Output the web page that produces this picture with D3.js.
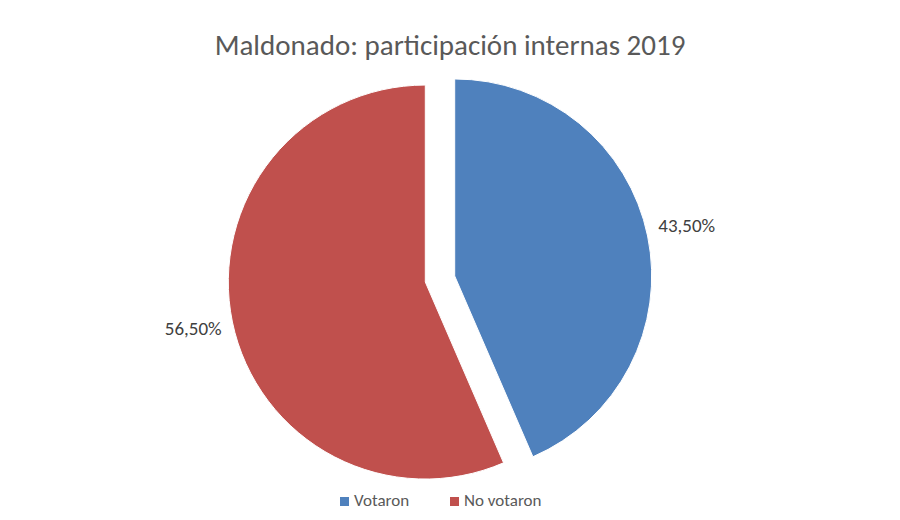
<!DOCTYPE html>
<html>
<head>
<meta charset="utf-8">
<script src="https://cdn.jsdelivr.net/npm/d3@7"></script>
<style>
  body { margin: 0; background: #fff; }
  text { font-family: Calibri, Carlito, "Open Sans", sans-serif; }
</style>
</head>
<body>
<svg id="chart" width="900" height="520"></svg>
<script>
var categories = ["Votaron", "No votaron"];
var values = [43.5, 56.5];
var colors = ["#4f81bd", "#c0504d"];

var svg = d3.select("#chart");
var cx = 440, cy = 279, r = 197, explode = 15;

svg.append("text")
    .attr("x", 450).attr("y", 55)
    .attr("text-anchor", "middle")
    .attr("font-size", 29)
    .attr("fill", "#595959")
    .text("Maldonado: participación internas 2019");

var pie = d3.pie().sort(null).value(function (d) { return d; });
var arcs = pie(values);
var arc = d3.arc().innerRadius(0).outerRadius(r);

var g = svg.append("g").attr("transform", "translate(" + cx + "," + cy + ")");

arcs.forEach(function (a, i) {
    var mid = (a.startAngle + a.endAngle) / 2;
    var dx = Math.sin(mid) * explode, dy = -Math.cos(mid) * explode;
    g.append("path")
        .attr("d", arc(a))
        .attr("transform", "translate(" + dx + "," + dy + ")")
        .attr("fill", colors[i])
        .attr("stroke", "#fff")
        .attr("stroke-width", 1);
    var lr = r + 40;
    var lx = Math.sin(mid) * lr + dx, ly = -Math.cos(mid) * lr + dy;
    g.append("text")
        .attr("x", lx).attr("y", ly)
        .attr("text-anchor", "middle")
        .attr("dominant-baseline", "middle")
        .attr("font-size", 19)
        .attr("fill", "#404040")
        .text(values[i].toFixed(2).replace(".", ",") + "%");
});

var legend = svg.append("g").attr("transform", "translate(340,502)");
var lxPos = [0, 110];
categories.forEach(function (c, i) {
    legend.append("rect")
        .attr("x", lxPos[i]).attr("y", -5)
        .attr("width", 9).attr("height", 9)
        .attr("fill", colors[i]);
    legend.append("text")
        .attr("x", lxPos[i] + 14).attr("y", 0)
        .attr("dominant-baseline", "middle")
        .attr("font-size", 17)
        .attr("fill", "#595959")
        .text(c);
});
</script>
</body>
</html>
